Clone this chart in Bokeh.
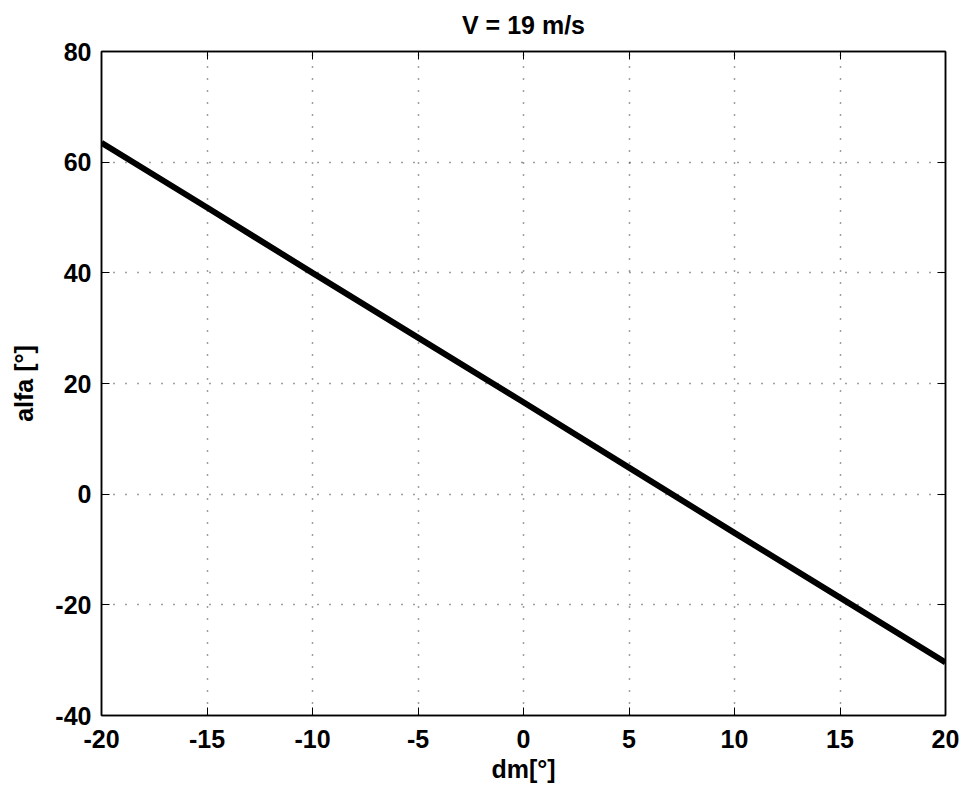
from bokeh.plotting import figure
from bokeh.models import Range1d, FixedTicker, LinearAxis, Title, CustomJSTickFormatter
from bokeh.embed import file_html
from bokeh.resources import INLINE

# data
dm = [-20, -15, -10, -5, 0, 5, 10, 15, 20]
alfa = [63.5, 51.8, 40.0, 28.3, 16.6, 4.8, -7.0, -18.7, -30.4]
x_ticks = [-20, -15, -10, -5, 0, 5, 10, 15, 20]
y_ticks = [-40, -20, 0, 20, 40, 60, 80]
title_text = "V = 19 m/s"
x_label = "dm[°]"
y_label = "alfa [°]"

FONT = "Liberation Sans"

p = figure(width=962, height=785, output_backend="svg", toolbar_location=None,
           x_range=Range1d(-20, 20), y_range=Range1d(-40, 80),
           min_border_left=101, min_border_right=17, min_border_top=51, min_border_bottom=69,
           x_axis_label=x_label, y_axis_label=y_label)

p.title = Title(text=title_text, align="center", vertical_align="top",
                text_font=FONT, text_font_size="25px",
                text_font_style="bold", text_color="black", offset=0, standoff=21)

p.outline_line_color = "black"
p.outline_line_width = 1.5
p.background_fill_color = "white"
p.border_fill_color = "white"

plain = CustomJSTickFormatter(code="return String(tick);")
blank = CustomJSTickFormatter(code="return '';")

for ax, tk in ((p.xaxis[0], x_ticks), (p.yaxis[0], y_ticks)):
    ax.ticker = FixedTicker(ticks=tk)
    ax.formatter = plain
    ax.major_tick_in = 8
    ax.major_tick_out = 0
    ax.minor_tick_in = 0
    ax.minor_tick_out = 0
    ax.axis_line_color = "black"
    ax.axis_line_width = 1.5
    ax.major_tick_line_color = "black"
    ax.major_tick_line_width = 1
    ax.major_label_text_font = FONT
    ax.major_label_text_font_size = "25px"
    ax.major_label_text_font_style = "bold"
    ax.major_label_text_color = "black"
    ax.axis_label_text_font = FONT
    ax.axis_label_text_font_size = "25px"
    ax.axis_label_text_font_style = "bold"
    ax.axis_label_text_color = "black"

p.xaxis[0].major_label_standoff = 14
p.xaxis[0].axis_label_standoff = 4
p.yaxis[0].major_label_standoff = 10
p.yaxis[0].axis_label_standoff = 14

for loc, tk in (("above", x_ticks), ("right", y_ticks)):
    ax = LinearAxis(ticker=FixedTicker(ticks=tk), formatter=blank,
                    major_tick_in=8, major_tick_out=0, minor_tick_in=0, minor_tick_out=0,
                    major_label_standoff=0, axis_line_color="black", axis_line_width=1.5,
                    major_tick_line_color="black")
    p.add_layout(ax, loc)

p.xgrid.ticker = FixedTicker(ticks=x_ticks)
p.ygrid.ticker = FixedTicker(ticks=y_ticks)
for g in (p.xgrid[0], p.ygrid[0]):
    g.grid_line_color = "black"
    g.grid_line_alpha = 0.75
    g.grid_line_dash = "1 11"
    g.grid_line_width = 1.5

p.line(dm, alfa, line_color="black", line_width=6)

open("out.html", "w").write(file_html(p, INLINE))
